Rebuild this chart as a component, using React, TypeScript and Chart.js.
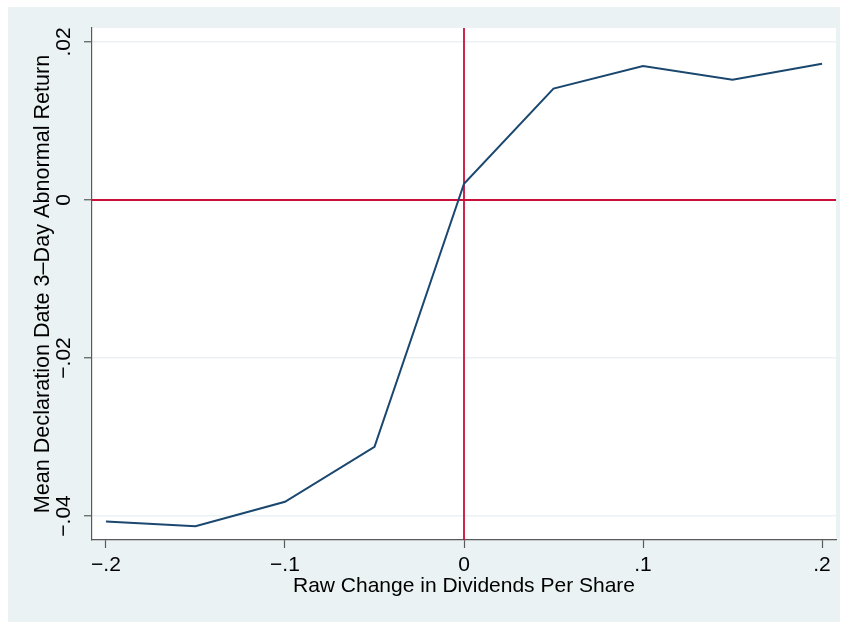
import React, { useEffect, useRef } from "react";
import { Chart, registerables } from "chart.js";

Chart.register(...registerables);

const xValues = [-0.2, -0.15, -0.1, -0.05, 0, 0.05, 0.1, 0.15, 0.2];
const yValues = [-0.0407, -0.0413, -0.0382, -0.03125, 0.00206, 0.0141, 0.01696, 0.01523, 0.01725];
const xTicks = [-0.2, -0.1, 0, 0.1, 0.2];
const yTicks = [-0.04, -0.02, 0, 0.02];
const xTickLabels = ["\u2212.2", "\u2212.1", "0", ".1", ".2"];
const yTickLabels = ["\u2212.04", "\u2212.02", "0", ".02"];
const xTitle = "Raw Change in Dividends Per Share";
const yTitle = "Mean Declaration Date 3\u2013Day Abnormal Return";
const refX = 0;
const refY = 0;

const FAMILY = '"Liberation Sans", Arial, Helvetica, sans-serif';
const FONT = "21px " + FAMILY;
const YTITLE_FONT = "21.6px " + FAMILY;
const BG = "#eaf2f3";
const AXIS = "#5a5a5a";
const RED = "#c8103a";
const NAVY = "#1a476f";

export default function App() {
  const ref = useRef<HTMLCanvasElement | null>(null);
  useEffect(() => {
    if (!ref.current) return;
    const plugin = {
      id: "stataDeco",
      beforeDraw(chart: any) {
        const { ctx, chartArea } = chart;
        ctx.save();
        ctx.fillStyle = "#ffffff";
        ctx.fillRect(chartArea.left, chartArea.top, chartArea.right - chartArea.left, chartArea.bottom - chartArea.top);
        ctx.restore();
      },
      beforeDatasetsDraw(chart: any) {
        const { ctx, chartArea, scales } = chart;
        const px = scales.x.getPixelForValue(refX);
        const py = scales.y.getPixelForValue(refY);
        ctx.save();
        ctx.strokeStyle = RED;
        ctx.lineWidth = 1.8;
        ctx.beginPath();
        ctx.moveTo(chartArea.left, py);
        ctx.lineTo(chartArea.right, py);
        ctx.moveTo(px, chartArea.top);
        ctx.lineTo(px, chartArea.bottom);
        ctx.stroke();
        ctx.restore();
      },
      afterDraw(chart: any) {
        const { ctx, chartArea, scales } = chart;
        ctx.save();
        ctx.fillStyle = "#000000";
        ctx.font = FONT;
        ctx.textAlign = "center";
        ctx.textBaseline = "alphabetic";
        xTicks.forEach((v, i) => {
          ctx.fillText(xTickLabels[i], scales.x.getPixelForValue(v), 564);
        });
        ctx.fillText(xTitle, (chartArea.left + chartArea.right) / 2, 585);
        yTicks.forEach((v, i) => {
          ctx.save();
          ctx.translate(62, scales.y.getPixelForValue(v));
          ctx.rotate(-Math.PI / 2);
          ctx.textAlign = "center";
          ctx.fillText(yTickLabels[i], 0, 0);
          ctx.restore();
        });
        ctx.save();
        ctx.font = YTITLE_FONT;
        ctx.translate(40.5, (chartArea.top + chartArea.bottom) / 2);
        ctx.rotate(-Math.PI / 2);
        ctx.textAlign = "center";
        ctx.fillText(yTitle, 0, 0);
        ctx.restore();
        ctx.restore();
      },
    };

    const chart = new Chart(ref.current, {
      type: "line",
      data: {
        datasets: [
          {
            data: xValues.map((x, i) => ({ x, y: yValues[i] })),
            borderColor: NAVY,
            borderWidth: 2,
            pointRadius: 0,
            tension: 0,
            fill: false,
          },
        ],
      },
      options: {
        responsive: false,
        animation: false,
        devicePixelRatio: 1,
        layout: { padding: { left: 0, right: 4, top: 21, bottom: 0 } },
        plugins: { legend: { display: false }, tooltip: { enabled: false }, title: { display: false } },
        scales: {
          x: {
            type: "linear",
            min: -0.2078,
            max: 0.2078,
            afterBuildTicks: (s: any) => {
              s.ticks = xTicks.map((v) => ({ value: v }));
            },
            afterFit: (s: any) => {
              s.height = 82;
            },
            ticks: { display: false },
            grid: { drawOnChartArea: false, drawTicks: true, tickLength: 8, tickColor: AXIS, tickWidth: 1.2 },
            border: { display: true, color: AXIS, width: 1.2 },
          },
          y: {
            type: "linear",
            min: -0.04304,
            max: 0.02177,
            afterBuildTicks: (s: any) => {
              s.ticks = yTicks.map((v) => ({ value: v }));
            },
            afterFit: (s: any) => {
              s.width = 84;
            },
            ticks: { display: false },
            grid: { color: BG, lineWidth: 1.5, drawTicks: true, tickLength: 8, tickColor: AXIS, tickWidth: 1.2 },
            border: { display: true, color: AXIS, width: 1.2 },
          },
        },
      },
      plugins: [plugin],
    } as any);
    return () => chart.destroy();
  }, []);

  return (
    <div style={{ position: "absolute", left: 8, top: 7, width: 832, height: 615, background: BG }}>
      <canvas ref={ref} width={832} height={615} style={{ display: "block" }} />
    </div>
  );
}
